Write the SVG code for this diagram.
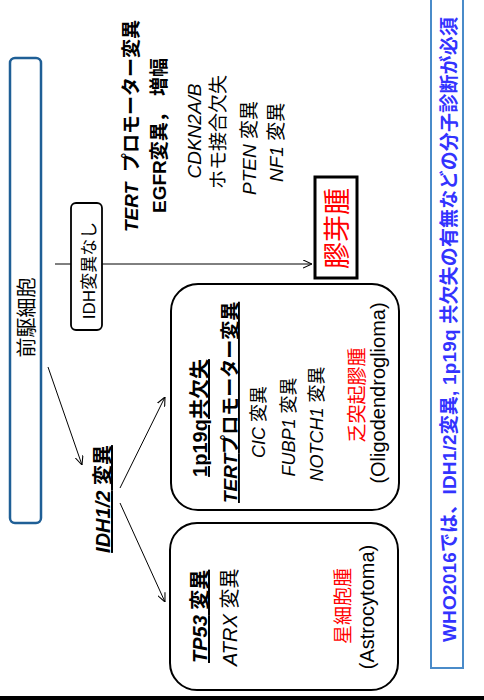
<svg xmlns="http://www.w3.org/2000/svg" width="484" height="700" viewBox="0 0 484 700">
<defs>
<marker id="arr" viewBox="0 0 10 10" refX="10" refY="5" markerWidth="9" markerHeight="9" markerUnits="userSpaceOnUse" orient="auto">
<path d="M0,0.5 L10,5 L0,9.5" fill="none" stroke="#000" stroke-width="1.2"/>
</marker>
</defs>
<style>
text{font-family:"Liberation Sans","Noto Sans CJK JP",sans-serif;fill:#000}
.b{font-weight:bold}
.i{font-style:italic}
.u{text-decoration:underline}
.r{fill:#ff0000}
.m{text-anchor:middle}
.box{fill:#fff;stroke:#000;stroke-width:2}
.con{stroke:#000;stroke-width:1;fill:none}
</style>
<rect x="0" y="696" width="484" height="4" fill="#000"/>
<g transform="translate(0,700) rotate(-90)">
<g id="connectors">
<line class="con" x1="436" y1="55" x2="436" y2="312" marker-end="url(#arr)"/>
<line class="con" x1="333" y1="48" x2="235" y2="82" marker-end="url(#arr)"/>
<line class="con" x1="212" y1="120" x2="303" y2="165" marker-end="url(#arr)"/>
<line class="con" x1="197" y1="120" x2="98" y2="165" marker-end="url(#arr)"/>
</g>
<g id="progenitor">
<rect x="177" y="10" width="465" height="31" rx="5" fill="#fff" stroke="#1F5F96" stroke-width="2.5"/>
<text x="382.5" y="34" class="m" font-size="20">前駆細胞</text>
</g>
<g id="idh-wt">
<rect x="370" y="71" width="127" height="31" rx="5" fill="#fff" stroke="#000" stroke-width="1.8"/>
<text x="429.5" y="95" class="m" font-size="17">IDH変異なし</text>
</g>
<g id="gbm-markers">
<text y="138" font-size="19" class="b"><tspan x="468" class="i">TERT</tspan><tspan x="528">プロモーター変異</tspan></text>
<text y="166" font-size="19" class="b"><tspan x="487">EGFR変異，</tspan><tspan x="604">増幅</tspan></text>
<text x="569" y="201" class="m i" font-size="19">CDKN2A/B</text>
<text x="568" y="225" class="m" font-size="19">ホモ接合欠失</text>
<text x="505" y="256" font-size="19"><tspan class="i">PTEN</tspan> 変異</text>
<text x="518" y="283" font-size="19"><tspan class="i">NF1</tspan> 変異</text>
</g>
<g id="gbm">
<rect x="422" y="315" width="101" height="42" fill="#fff" stroke="#000" stroke-width="3"/>
<text x="471.5" y="347" class="m r" font-size="27">膠芽腫</text>
</g>
<g id="idh-mut">
<text x="201" y="110" class="m b u" font-size="20"><tspan class="i">IDH1/2</tspan> 変異</text>
</g>
<g id="oligo">
<rect class="box" x="190" y="171" width="226" height="228" rx="27"/>
<text x="282" y="207" class="m b u" font-size="20">1p19q共欠失</text>
<text x="197" y="237" class="b u" font-size="19"><tspan class="i">TERT</tspan>プロモーター変異</text>
<text x="278" y="265" class="m" font-size="18"><tspan class="i">CIC</tspan> 変異</text>
<text x="273" y="295" class="m" font-size="18"><tspan class="i">FUBP1</tspan> 変異</text>
<text x="276" y="323" class="m" font-size="18"><tspan class="i">NOTCH1</tspan> 変異</text>
<text x="305" y="364" class="m r" font-size="19">乏突起膠腫</text>
<text x="307" y="385" class="m" font-size="20">(Oligodendroglioma)</text>
</g>
<g id="astro">
<rect class="box" x="10" y="170" width="167" height="228" rx="27"/>
<text x="37" y="207" class="b u" font-size="20"><tspan class="i">TP53</tspan> 変異</text>
<text x="34" y="237" font-size="20"><tspan class="i">ATRX</tspan> 変異</text>
<text x="94" y="350" class="m r" font-size="19">星細胞腫</text>
<text x="93" y="374" class="m" font-size="20">(Astrocytoma)</text>
</g>
<g id="note">
<rect x="32" y="431" width="680" height="32" fill="#fff" stroke="#4A8BC9" stroke-width="2"/>
<text x="58" y="456" class="b" font-size="19" style="fill:#3333FF" textLength="625" lengthAdjust="spacing">WHO2016では、IDH1/2変異, 1p19q 共欠失の有無などの分子診断が必須</text>
</g>
</g>
</svg>
